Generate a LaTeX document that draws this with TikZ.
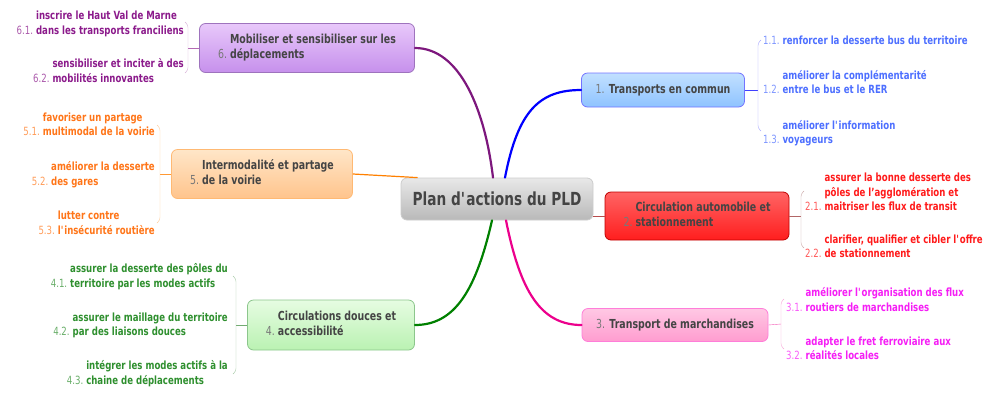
\documentclass[tikz,border=0pt]{standalone}
\usepackage{fontspec}
\setmainfont{DejaVu Sans}[FakeStretch=0.76]
\usepackage{tikz}

\definecolor{boxtext}{HTML}{444444}
\definecolor{blueitem}{HTML}{4D6FFF}
\definecolor{reditem}{HTML}{FF1A1A}
\definecolor{pinkitem}{HTML}{F51EF5}
\definecolor{greenitem}{HTML}{2E8F2E}
\definecolor{orangeitem}{HTML}{FF7518}
\definecolor{purpleitem}{HTML}{8B1A8B}
\definecolor{bluetop}{HTML}{C2E0FF}
\definecolor{bluebot}{HTML}{8EC3FF}
\definecolor{redtop}{HTML}{FF6464}
\definecolor{redbot}{HTML}{FF1E1E}
\definecolor{pinktop}{HTML}{FFC8E4}
\definecolor{pinkbot}{HTML}{FF9CCF}
\definecolor{greentop}{HTML}{E6FCE2}
\definecolor{greenbot}{HTML}{BAF2B2}
\definecolor{orangetop}{HTML}{FFE6C8}
\definecolor{orangebot}{HTML}{FFC48C}
\definecolor{purpletop}{HTML}{E8C8FA}
\definecolor{purplebot}{HTML}{C690EC}

\newcommand{\nb}[1]{{\mdseries\color{.!72!white}#1}}
\newcommand{\ap}{\textquotesingle}
\newcommand{\actA}[2]{\begin{tabular}{@{}r@{\hspace{3pt}}l@{}}\nb{#1} & #2\end{tabular}}
\newcommand{\actB}[3]{\begin{tabular}{@{}r@{\hspace{3pt}}l@{}} & #2\\ \nb{#1} & #3\end{tabular}}
\newcommand{\actC}[4]{\begin{tabular}{@{}r@{\hspace{3pt}}l@{}} & #2\\ & #3\\ \nb{#1} & #4\end{tabular}}

\begin{document}
\begin{tikzpicture}[x=1pt,y=-1pt]
\tikzstyle{every node}=[inner sep=0pt]
\tikzstyle{topic}=[draw, rounded corners=6pt, line width=0.8pt, text=boxtext, font=\fontsize{12.4}{15}\selectfont\bfseries]
\tikzstyle{item}=[font=\fontsize{11.3}{14.5}\selectfont\bfseries]
\tikzstyle{root}=[line width=2.2pt, line cap=round]
\useasboundingbox (0,0) rectangle (990,392);

% central topic
\draw (497,199) node (plan) [topic, draw=gray!40, top color=gray!18, bottom color=gray!55, minimum width=192, minimum height=42, font=\fontsize{18}{20}\selectfont\bfseries] {Plan d\ap actions du PLD};

% main topics
\draw (663,90) node (n1) [topic, draw=blue!55, top color=bluetop, bottom color=bluebot, minimum width=163, minimum height=34] {\nb{1.} Transports en commun};
\draw (697,216) node (n2) [topic, draw=red!75!black, top color=redtop, bottom color=redbot, minimum width=184, minimum height=48] {\actB{2.}{Circulation automobile et}{stationnement}};
\draw (675,325) node (n3) [topic, draw=pinkbot!80!magenta, top color=pinktop, bottom color=pinkbot, minimum width=186, minimum height=33] {\nb{3.} Transport de marchandises};
\draw (331,325) node (n4) [topic, draw=green!50!black!45, top color=greentop, bottom color=greenbot, minimum width=167, minimum height=50] {\actB{4.}{Circulations douces et}{accessibilit\'e}};
\draw (262,174) node (n5) [topic, draw=orange!55, top color=orangetop, bottom color=orangebot, minimum width=181, minimum height=49] {\actB{5.}{Intermodalit\'e et partage}{de la voirie}};
\draw (307,48) node (n6) [topic, draw=purplebot!80!black, top color=purpletop, bottom color=purplebot, minimum width=215, minimum height=49] {\actB{6.}{Mobiliser et sensibiliser sur les}{d\'eplacements}};

% branches from the centre
\draw[root, purpleitem!90!black] ([xshift=-4pt]plan.north) .. controls (485,110) and (460,48) .. (n6.east);
\draw[root, blue] ([xshift=8pt]plan.north) .. controls (518,110) and (540,90) .. (n1.west);
\draw[root, green!50!black] ([xshift=-5pt]plan.south) .. controls (476,290) and (455,325) .. (n4.east);
\draw[root, magenta] ([xshift=9pt]plan.south) .. controls (520,290) and (540,325) .. (n3.west);
\draw[line width=1.2pt, orange] (n5.east) .. controls (385,175) .. ([xshift=17pt]plan.north west);
\draw[line width=1pt, red!60!black!70] (plan.east |- n2.west) -- (n2.west);

% 1. Transports en commun
\draw (763,42) node (i11) [item, anchor=west, text=blueitem] {\actA{1.1.}{renforcer la desserte bus du territoire}};
\draw (763,83.5) node (i12) [item, anchor=west, text=blueitem] {\actB{1.2.}{am\'eliorer la compl\'ementarit\'e}{entre le bus et le RER}};
\draw (763,133.5) node (i13) [item, anchor=west, text=blueitem] {\actB{1.3.}{am\'eliorer l\ap information}{voyageurs}};
\coordinate (b1) at (758,90);
\draw[blue!75] (n1.east) -- (b1);
\draw[blue!35, rounded corners=2.5pt] (761,40) -- (758,43) -- (758,128) -- (761,131);

% 2. Circulation automobile
\draw (805,193.5) node (i21) [item, anchor=west, text=reditem] {\actC{2.1.}{assurer la bonne desserte des}{p\^oles de l'agglom\'eration et}{maitriser les flux de transit}};
\draw (805,247.5) node (i22) [item, anchor=west, text=reditem] {\actB{2.2.}{clarifier, qualifier et cibler l\ap offre}{de stationnement}};
\coordinate (b2) at (801,216);
\draw[red!50!black!60] (n2.east) -- (b2);
\draw[red!40!black!35, rounded corners=2.5pt] (804,191) -- (801,194) -- (801,245) -- (804,248);

% 3. Transport de marchandises
\draw (786,301) node (i31) [item, anchor=west, text=pinkitem] {\actB{3.1.}{am\'eliorer l\ap organisation des flux}{routiers de marchandises}};
\draw (786,349.5) node (i32) [item, anchor=west, text=pinkitem] {\actB{3.2.}{adapter le fret ferroviaire aux}{r\'ealit\'es locales}};
\coordinate (b3) at (781,324);
\draw[magenta!65] (n3.east) -- (b3);
\draw[magenta!35, rounded corners=2.5pt] (784,299) -- (781,302) -- (781,346) -- (784,349);

% 4. Circulations douces
\draw (228,277) node (i41) [item, anchor=east, text=greenitem] {\actB{4.1.}{assurer la desserte des p\^oles du}{territoire par les modes actifs}};
\draw (228,325.5) node (i42) [item, anchor=east, text=greenitem] {\actB{4.2.}{assurer le maillage du territoire}{par des liaisons douces}};
\draw (228,374) node (i43) [item, anchor=east, text=greenitem] {\actB{4.3.}{int\'egrer les modes actifs \`a la}{chaine de d\'eplacements}};
\coordinate (b4) at (236,325);
\draw[green!40!black!55] (n4.west) -- (b4);
\draw[green!40!black!35, rounded corners=2.5pt] (233,276) -- (236,279) -- (236,371) -- (233,374);

% 5. Intermodalite
\draw (155,125.5) node (i51) [item, anchor=east, text=orangeitem] {\actB{5.1.}{favoriser un partage}{multimodal de la voirie}};
\draw (155,175) node (i52) [item, anchor=east, text=orangeitem] {\actB{5.2.}{am\'eliorer la desserte}{des gares}};
\draw (155,224) node (i53) [item, anchor=east, text=orangeitem] {\actB{5.3.}{lutter contre}{l\ap ins\'ecurit\'e routi\`ere}};
\coordinate (b5) at (160,174);
\draw[orange!80] (n5.west) -- (b5);
\draw[orange!40, rounded corners=2.5pt] (157,125) -- (160,128) -- (160,220) -- (157,223);

% 6. Mobiliser
\draw (184,24) node (i61) [item, anchor=east, text=purpleitem] {\actB{6.1.}{inscrire le Haut Val de Marne}{dans les transports franciliens}};
\draw (184,72) node (i62) [item, anchor=east, text=purpleitem] {\actB{6.2.}{sensibiliser et inciter \`a des}{mobilit\'es innovantes}};
\coordinate (b6) at (188,48);
\draw[purpleitem!65] (n6.west) -- (b6);
\draw[purpleitem!35, rounded corners=2.5pt] (185,22) -- (188,25) -- (188,70) -- (185,73);
\end{tikzpicture}
\end{document}
